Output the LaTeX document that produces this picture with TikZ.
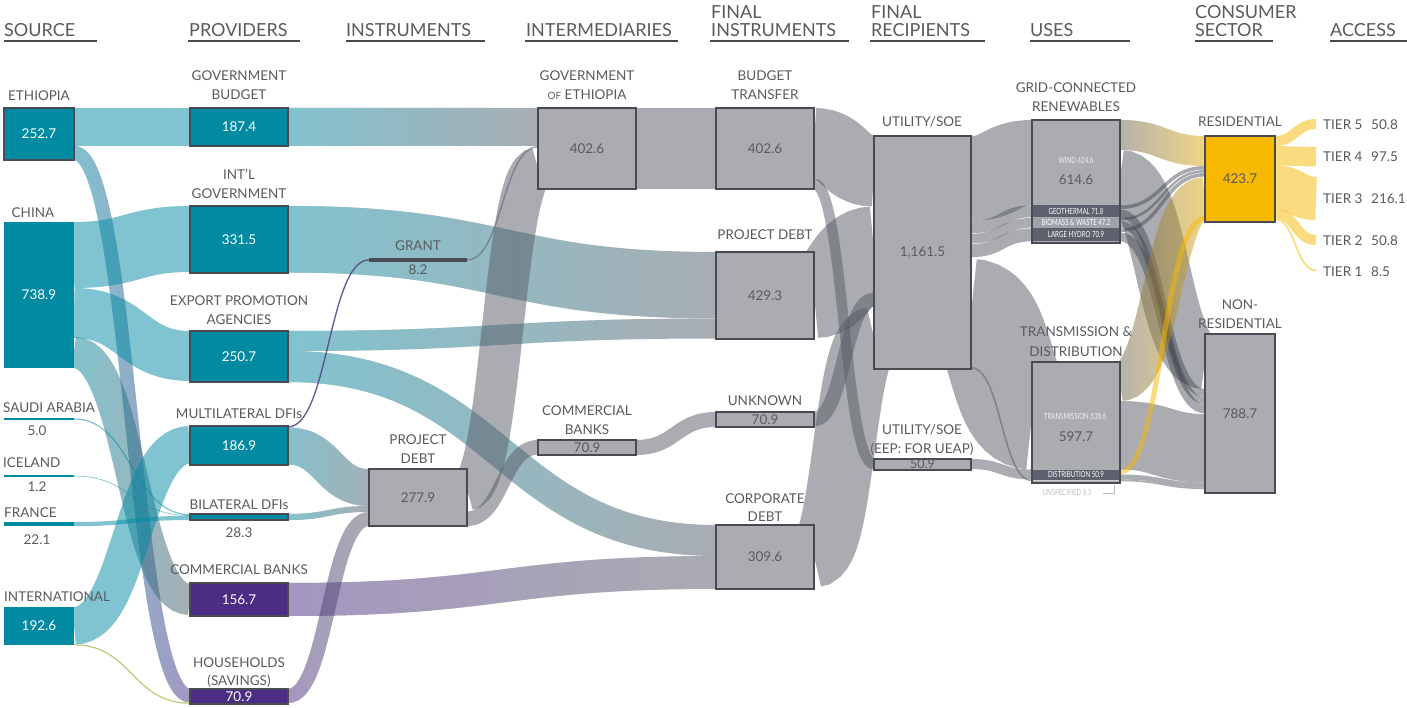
\documentclass[tikz,border=0pt]{standalone}
\usepackage{fontspec}
\setmainfont{Lato}
\usetikzlibrary{calc,fadings}
\definecolor{tealN}{HTML}{008BA3}
\definecolor{grayN}{HTML}{ABACB0}
\definecolor{grayF}{HTML}{575B65}
\definecolor{purpN}{HTML}{4B2D84}
\definecolor{yelN}{HTML}{F7B800}
\definecolor{edge}{HTML}{4A4B52}
\definecolor{txt}{HTML}{5A5B60}
\definecolor{darkband}{HTML}{5C616D}
\definecolor{midband}{HTML}{9EA1AA}
\definecolor{limeF}{HTML}{B9C46A}
\definecolor{darkF}{HTML}{3E424C}
\tikzfading[name=fadeR, left color=transparent!0, right color=transparent!100]
\pgfdeclarelayer{bg}\pgfsetlayers{bg,main}
\newcommand\cond[1]{\scalebox{0.72}[1]{#1}}
% flow as a thick curve: [style]{source}{offset}{target}{offset}{width}
\newcommand\flowpts[5]{%
  \coordinate (fa) at ($(#1.north east)+(0,{#2+#5/2})$);
  \coordinate (fc) at ($(#3.north west)+(0,{#4+#5/2})$);
  \coordinate (fm) at ($(fa)!0.5!(fc)$);}
\newcommand\flow[6][]{%
  \flowpts{#2}{#3}{#4}{#5}{#6}%
  \draw[line width=#6pt, #1] (fa) .. controls (fm|-fa) and (fm|-fc) .. (fc);}
% gradient flow: {colour from}{colour to}{source}{offset}{target}{offset}{width}
\newcommand\gflow[7]{%
  \flowpts{#3}{#4}{#5}{#6}{#7}%
  \begin{scope}[transparency group, opacity=.5]
    \draw[line width=#7pt, draw=#2] (fa) .. controls (fm|-fa) and (fm|-fc) .. (fc);
    \draw[line width=#7pt, draw=#1, path fading=fadeR] (fa) .. controls (fm|-fa) and (fm|-fc) .. (fc);
  \end{scope}}
\begin{document}
\begin{tikzpicture}[x=1pt,y=-1pt,
  lbl/.style={anchor=base, font=\fontsize{13.5}{15}\selectfont, text=txt, inner sep=0},
  lblw/.style={lbl, anchor=base west},
  hdr/.style={anchor=base west, font=\fontsize{18}{20}\selectfont, text=txt, inner sep=0},
  nb/.style={rectangle, inner sep=0, outer sep=0, anchor=north west, line width=1.8pt, font=\fontsize{13.5}{15}\selectfont},
  tealbox/.style={nb, fill=tealN, draw=edge, text=white},
  graybox/.style={nb, fill=grayN, draw=edge, text=txt},
  purpbox/.style={nb, fill=purpN, draw=edge, text=white},
  pt/.style={inner sep=0, outer sep=0, minimum size=0pt},
  small/.style={inner sep=0, font=\fontsize{8.5}{9}\selectfont, text=white},
  tf/.style={draw=tealN, draw opacity=.5},
  gf/.style={draw=grayF, draw opacity=.5},
  df/.style={draw=darkF, draw opacity=.45},
  yf/.style={draw=yelN, draw opacity=.5},
  lf/.style={draw=limeF, draw opacity=.9},
  plf/.style={draw=purpN!75!gray, draw opacity=.85},
]
\useasboundingbox (0,0) rectangle (1407,708);

% ---------- headers ----------
\node[hdr] (hSrc) at (4,37) {SOURCE};
\node[hdr] (hProv) at (189,37) {PROVIDERS};
\node[hdr] (hInst) at (346,37) {INSTRUMENTS};
\node[hdr] (hInter) at (526,37) {INTERMEDIARIES};
\node[hdr] (hFinA) at (711,19) {FINAL};
\node[hdr] (hFinB) at (711,37) {INSTRUMENTS};
\node[hdr] (hRecA) at (871,19) {FINAL};
\node[hdr] (hRecB) at (871,37) {RECIPIENTS};
\node[hdr] (hUses) at (1030,37) {USES};
\node[hdr] (hConA) at (1195,19) {CONSUMER};
\node[hdr] (hConB) at (1195,37) {SECTOR};
\node[hdr] (hAcc) at (1330,37) {ACCESS};
\foreach \a/\b in {4/97,188/300,346/485,525/678,710/849,870/985,1030/1130,1195/1273,1330/1407}
  \fill[edge] (\a,40.5) rectangle (\b,42.5);

% ---------- nodes ----------
% source
\node[tealbox, minimum width=70pt, minimum height=52pt] (eth) at (4,108) {252.7};
\node[tealbox, draw=none, minimum width=70pt, minimum height=146pt] (chn) at (4,222) {738.9};
\node[nb, fill=tealN, minimum width=70pt, minimum height=2pt] (sau) at (4,418) {};
\node[nb, fill=tealN, minimum width=70pt, minimum height=2pt] (ice) at (4,475) {};
\node[nb, fill=tealN, minimum width=70pt, minimum height=4pt] (fra) at (4,522) {};
\node[tealbox, draw=none, minimum width=70pt, minimum height=38pt] (intl) at (4,607) {192.6};
% providers
\node[tealbox, minimum width=98pt, minimum height=38pt] (gb) at (190,108) {187.4};
\node[tealbox, minimum width=98pt, minimum height=67pt] (ig) at (190,206) {331.5};
\node[tealbox, minimum width=98pt, minimum height=51pt] (ep) at (190,331) {250.7};
\node[tealbox, minimum width=98pt, minimum height=39pt] (md) at (190,426) {186.9};
\node[tealbox, minimum width=98pt, minimum height=6pt] (bd) at (190,514) {};
\node[purpbox, minimum width=98pt, minimum height=33pt] (cb) at (190,583) {156.7};
\node[purpbox, minimum width=98pt, minimum height=15pt] (hh) at (190,689) {70.9};
% instruments
\node[nb, fill=edge, minimum width=98pt, minimum height=4pt] (grant) at (369,258) {};
\node[graybox, minimum width=98pt, minimum height=57pt] (pdi) at (369,469) {277.9};
% intermediaries
\node[graybox, minimum width=98pt, minimum height=81pt] (goe) at (538,108) {402.6};
\node[graybox, minimum width=98pt, minimum height=15pt] (cbi) at (538,440) {70.9};
% final instruments
\node[graybox, minimum width=98pt, minimum height=81pt] (bt) at (716,108) {402.6};
\node[graybox, minimum width=98pt, minimum height=87pt] (pdf) at (716,252) {429.3};
\node[graybox, minimum width=98pt, minimum height=15pt] (unk) at (716,412) {70.9};
\node[graybox, minimum width=98pt, minimum height=64pt] (cd) at (716,525) {309.6};
% final recipients
\node[graybox, minimum width=97pt, minimum height=233pt] (ut) at (874,136) {1,161.5};
\node[graybox, minimum width=97pt, minimum height=11pt, font=\fontsize{12.5}{13}\selectfont] (ueap) at (874,459) {50.9};
% uses
\node[graybox, minimum width=88pt, minimum height=123pt] (gr) at (1032,120) {};
\node[graybox, minimum width=88pt, minimum height=121pt] (td) at (1032,362) {};
% consumer sector
\node[nb, fill=yelN, draw=edge, text=txt, minimum width=70pt, minimum height=86pt] (res) at (1205,136) {423.7};
\node[graybox, minimum width=70pt, minimum height=159pt] (nr) at (1205,334) {788.7};
% access end points
\node[pt] (t5) at (1316,119) {};
\node[pt] (t4) at (1316,147) {};
\node[pt] (t3) at (1316,177) {};
\node[pt] (t2) at (1316,235) {};
\node[pt] (t1) at (1316,269.5) {};

% sub-bands of uses
\node[nb, fill=darkband, minimum width=86.2pt, minimum height=12.5pt] (geo) at (1032.9,205) {};
\node[nb, fill=midband, minimum width=86.2pt, minimum height=10pt] (bio) at (1032.9,217.8) {};
\node[nb, fill=darkband, minimum width=86.2pt, minimum height=13.3pt] (hyd) at (1032.9,228.1) {};
\node[nb, fill=darkband, minimum width=86.2pt, minimum height=10pt] (dis) at (1032.9,469.5) {};
\node[nb, fill=grayN!60!white, minimum width=86.2pt, minimum height=1.6pt] (uns) at (1032.9,479.7) {};
\node[small] (tGeo) at (geo) {\cond{GEOTHERMAL 71.8}};
\node[small] (tBio) at (bio) {\cond{BIOMASS \& WASTE 47.2}};
\node[small] (tHyd) at (hyd) {\cond{LARGE HYDRO 70.9}};
\node[small] (tDis) at (dis) {\cond{DISTRIBUTION 50.9}};
\node[small, text=white!90!gray] (tWind) at (1076,160) {\cond{WIND 424.6}};
\node[lbl, anchor=center] (vGr) at (1076,180) {614.6};
\node[small, text=white!90!gray] (tTrans) at (1075,416) {\cond{TRANSMISSION 538.6}};
\node[lbl, anchor=center] (vTd) at (1076,437) {597.7};
\node[small, text=grayN!80!white] (tUns) at (1067,492) {\cond{UNSPECIFIED 8.3}};
\draw[grayN!80!white, line width=1pt] (1103,493) -- (1114,493) -- (1114,485);

% ---------- labels ----------
\node[lbl] (lEth) at (39,101) {ETHIOPIA};
\node[lbl] (lChn) at (33,218) {CHINA};
\node[lblw] (lSau) at (3,412) {SAUDI ARABIA};
\node[lbl] (vSau) at (37,435) {5.0};
\node[lblw] (lIce) at (3,467) {ICELAND};
\node[lbl] (vIce) at (37,491) {1.2};
\node[lblw] (lFra) at (4,517) {FRANCE};
\node[lbl] (vFra) at (37,544) {22.1};
\node[lblw] (lInt) at (4,601) {INTERNATIONAL};
\node[lbl] (lGbA) at (239,81) {GOVERNMENT};
\node[lbl] (lGbB) at (239,100) {BUDGET};
\node[lbl] (lIgA) at (239,180) {INT’L};
\node[lbl] (lIgB) at (239,199) {GOVERNMENT};
\node[lbl] (lEpA) at (239,306) {EXPORT PROMOTION};
\node[lbl] (lEpB) at (239,324) {AGENCIES};
\node[lbl] (lMd) at (239,418) {MULTILATERAL DFIs};
\node[lbl] (lBd) at (239,509) {BILATERAL DFIs};
\node[lbl] (vBd) at (239,537) {28.3};
\node[lbl] (lCb) at (239,574) {COMMERCIAL BANKS};
\node[lbl] (lHhA) at (239,667) {HOUSEHOLDS};
\node[lbl] (lHhB) at (239,685) {(SAVINGS)};
\node[lbl] (lGr) at (418,251) {GRANT};
\node[lbl] (vGrant) at (418,275) {8.2};
\node[lbl] (lPdiA) at (418,444) {PROJECT};
\node[lbl] (lPdiB) at (418,463) {DEBT};
\node[lbl] (lGoeA) at (587,81) {GOVERNMENT};
\node[lbl] (lGoeB) at (587,100) {{\fontsize{10}{12}\selectfont OF} ETHIOPIA};
\node[lbl] (lCbiA) at (587,415) {COMMERCIAL};
\node[lbl] (lCbiB) at (587,434) {BANKS};
\node[lbl] (lBtA) at (765,81) {BUDGET};
\node[lbl] (lBtB) at (765,100) {TRANSFER};
\node[lbl] (lPdf) at (765,240) {PROJECT DEBT};
\node[lbl] (lUnk) at (765,405) {UNKNOWN};
\node[lbl] (lCdA) at (765,503) {CORPORATE};
\node[lbl] (lCdB) at (765,521) {DEBT};
\node[lbl] (lUt) at (922,127) {UTILITY/SOE};
\node[lbl] (lUeA) at (922,434) {UTILITY/SOE};
\node[lbl] (lUeB) at (922,453) {(EEP: FOR UEAP)};
\node[lbl] (lGrnA) at (1076,93) {GRID-CONNECTED};
\node[lbl] (lGrnB) at (1076,112) {RENEWABLES};
\node[lbl] (lTdA) at (1076,337) {TRANSMISSION \&};
\node[lbl] (lTdB) at (1076,356) {DISTRIBUTION};
\node[lbl] (lRes) at (1240,127) {RESIDENTIAL};
\node[lbl] (lNrA) at (1240,310) {NON-};
\node[lbl] (lNrB) at (1240,328) {RESIDENTIAL};
\node[lblw] (lT5) at (1323,130) {TIER 5};
\node[lblw] (vT5) at (1371,130) {50.8};
\node[lblw] (lT4) at (1323,162) {TIER 4};
\node[lblw] (vT4) at (1371,162) {97.5};
\node[lblw] (lT3) at (1323,204) {TIER 3};
\node[lblw] (vT3) at (1371,204) {216.1};
\node[lblw] (lT2) at (1323,246) {TIER 2};
\node[lblw] (vT2) at (1371,246) {50.8};
\node[lblw] (lT1) at (1323,277) {TIER 1};
\node[lblw] (vT1) at (1371,277) {8.5};

% ---------- flows ----------
\begin{pgfonlayer}{bg}
\fill[white] (0,0) rectangle (1407,708);
% source -> providers
\flow[tf]{eth}{0}{gb}{0}{38}
\gflow{tealN}{purpN}{eth}{38}{hh}{0}{13.5}
\flow[tf]{chn}{0}{ig}{0}{66}
\flow[tf]{chn}{66}{ep}{0}{50}
\gflow{tealN}{grayF}{chn}{115}{cb}{1}{31}
\flow[tf]{sau}{0.4}{bd}{0}{1.2}
\flow[tf]{ice}{0.7}{bd}{1.2}{0.7}
\flow[tf]{fra}{0}{bd}{1.8}{4.2}
\flow[tf]{intl}{0}{md}{0}{37.5}
\flow[lf]{intl}{37.2}{hh}{13.6}{1.2}
% providers -> next
\gflow{tealN}{grayF}{gb}{0}{goe}{0}{38}
\gflow{tealN}{grayF}{ig}{0}{pdf}{0}{66.5}
\gflow{tealN}{grayF}{ep}{0}{pdf}{66.5}{20}
\gflow{tealN}{grayF}{ep}{20}{cd}{0}{31}
\flow[plf]{md}{0.2}{grant}{1.2}{1.4}
\gflow{tealN}{grayF}{md}{1.5}{pdi}{0}{37}
\gflow{tealN}{grayF}{bd}{0}{pdi}{37}{6}
\gflow{purpN}{grayF}{cb}{0}{cd}{31}{33}
\gflow{purpN}{grayF}{hh}{0}{pdi}{43}{14}
% instruments -> intermediaries
\flow[gf]{grant}{1.2}{goe}{38}{1.5}
\flow[gf]{pdi}{0}{goe}{39.5}{41.5}
\flow[gf]{pdi}{42.5}{cbi}{0}{14.5}
% intermediaries -> final instruments
\flow[gf]{goe}{0}{bt}{0}{81}
\flow[gf]{cbi}{0}{unk}{0}{15}
% final instruments -> recipients
\flow[gf]{bt}{0}{ut}{0}{70.5}
\flow[gf]{bt}{70.5}{ueap}{0}{10.5}
\flow[gf]{pdf}{0}{ut}{70.5}{86}
\flow[gf]{unk}{0}{ut}{156.5}{14.3}
\flow[gf]{cd}{0}{ut}{170.8}{62.2}
% recipients -> uses
\flow[gf]{ut}{0}{gr}{0}{85}
\flow[gf]{ut}{85.3}{gr}{85.3}{12}
\flow[gf]{ut}{97.9}{gr}{98}{9.6}
\flow[gf]{ut}{108.2}{gr}{108.3}{13}
\flow[gf]{ut}{123}{td}{0}{107.5}
\flow[gf]{ut}{231}{td}{117.7}{1.6}
\flow[gf]{ueap}{0}{td}{107.5}{10}
% uses -> consumer sector
\gflow{grayF}{yelN}{gr}{0}{res}{0}{30}
\flow[gf]{gr}{30}{nr}{0}{55}
\flow[df]{gr}{85.5}{res}{30}{3.5}
\flow[df]{gr}{89.5}{nr}{55}{8}
\flow[df]{gr}{98}{res}{34}{2.5}
\flow[df]{gr}{101}{nr}{63.5}{6.5}
\flow[df]{gr}{108.5}{res}{37}{3.5}
\flow[df]{gr}{112.5}{nr}{70.5}{8.8}
\gflow{grayF}{yelN}{td}{0}{res}{41}{39}
\flow[gf]{td}{39}{nr}{80}{68.5}
\flow[yf]{td}{107.5}{res}{80}{5}
\flow[gf]{td}{112.5}{nr}{148.5}{5}
\flow[gf]{td}{117.7}{nr}{153.5}{1.6}
% consumer sector -> access
\flow[yf]{res}{0}{t5}{0}{10}
\flow[yf]{res}{10}{t4}{0}{19.5}
\flow[yf]{res}{29.5}{t3}{0}{43}
\flow[yf]{res}{72.5}{t2}{0}{10}
\flow[yf]{res}{82.5}{t1}{0}{1.7}
\end{pgfonlayer}
\end{tikzpicture}
\end{document}
